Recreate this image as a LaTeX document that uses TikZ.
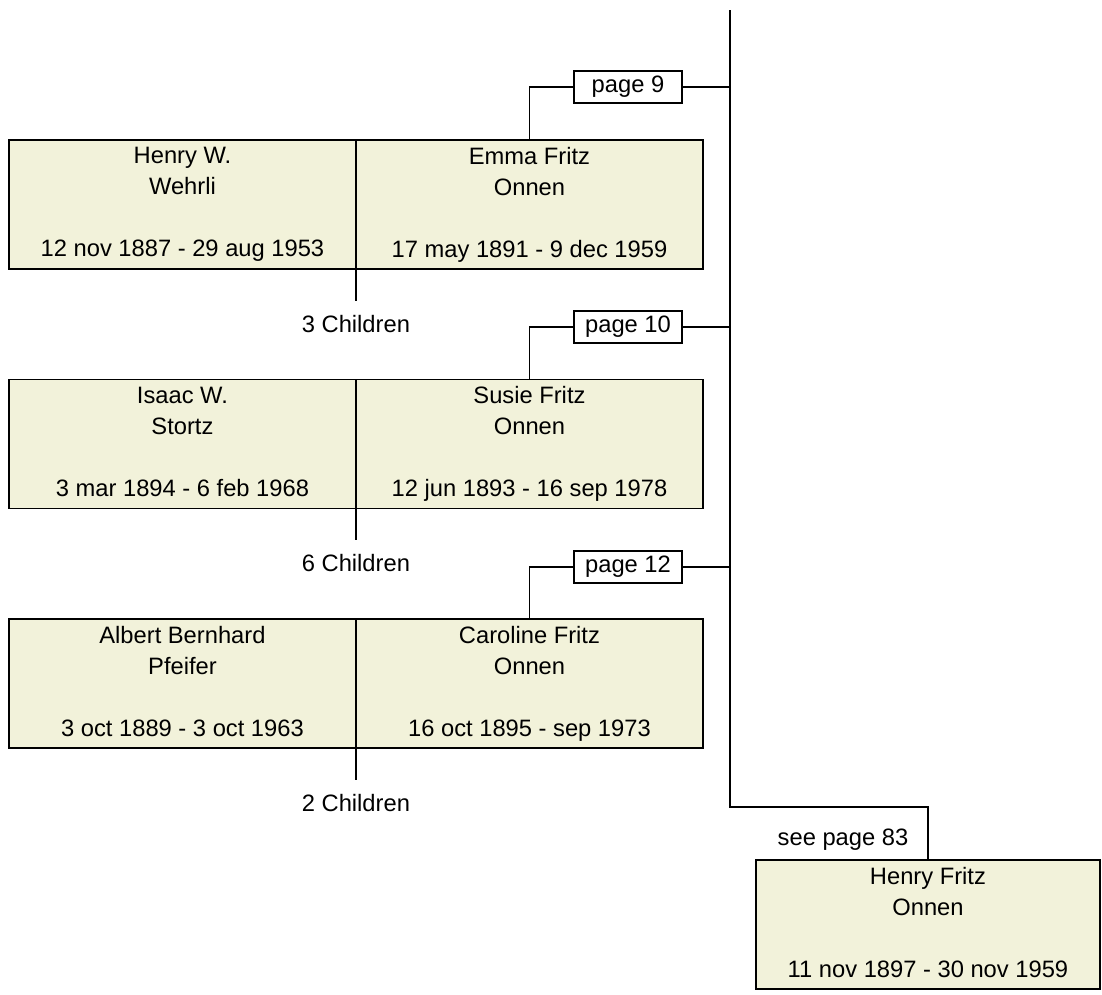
\documentclass[tikz,border=0pt]{standalone}
\usepackage{fontspec}
\setmainfont{Liberation Sans}
\usepackage{xcolor}
\usepackage{tikz}
\usetikzlibrary{positioning}
\definecolor{boxfill}{RGB}{242,242,218}

\begin{document}
\begin{tikzpicture}[x=0.02cm, y=-0.02cm, line width=1.1pt,
    person/.style={rectangle, draw, fill=boxfill, outer sep=0pt, inner sep=0pt,
        minimum width=6.94cm, minimum height=2.58cm, align=center, anchor=north west,
        execute at end node=\vphantom{gy},
        font=\fontsize{13.5}{17.6}\selectfont},
    pagebox/.style={rectangle, draw, fill=white, inner sep=0pt,
        minimum width=2.16cm, minimum height=0.64cm, font=\fontsize{13.5}{16}\selectfont},
    kids/.style={inner sep=0.26cm, font=\fontsize{13.5}{16}\selectfont}]
    \useasboundingbox (0,0) rectangle (1102,994);

    % couples
    \node[person] (h1) at (9,140) {Henry W.\\Wehrli\\~\\12 nov 1887 - 29 aug 1953};
    \node[person] (w1) at (356,140) {Emma Fritz\\Onnen\\~\\17 may 1891 - 9 dec 1959};
    \node[person] (h2) at (9,379.5) {Isaac W.\\Stortz\\~\\3 mar 1894 - 6 feb 1968};
    \node[person] (w2) at (356,379.5) {Susie Fritz\\Onnen\\~\\12 jun 1893 - 16 sep 1978};
    \node[person] (h3) at (9,619) {Albert Bernhard\\Pfeifer\\~\\3 oct 1889 - 3 oct 1963};
    \node[person] (w3) at (356,619) {Caroline Fritz\\Onnen\\~\\16 oct 1895 - sep 1973};

    \node[kids, below=0.64cm of h1.south east] (k1) {3 Children};
    \node[kids, below=0.64cm of h2.south east] (k2) {6 Children};
    \node[kids, below=0.64cm of h3.south east] (k3) {2 Children};

    \node[pagebox] (p1) at (628,87) {page 9};
    \node[pagebox] (p2) at (628,327) {page 10};
    \node[pagebox] (p3) at (628,567) {page 12};

    % spine and the person himself
    \coordinate (top) at (730,10);
    \coordinate (bot) at (730,807);
    \node[person, minimum width=6.88cm] (me) at (756,860)
        {Henry Fritz\\Onnen\\~\\11 nov 1897 - 30 nov 1959};
    \node[font=\fontsize{13.5}{16}\selectfont] (seep) at (843,840) {see page 83};

    \draw (top) -- (bot) -| (me.north);
    \draw (p1.east) -- (p1.east -| top)
          (p2.east) -- (p2.east -| top)
          (p3.east) -- (p3.east -| top);
    \draw (p1.west) -| (w1.north)
          (p2.west) -| (w2.north)
          (p3.west) -| (w3.north);
    \draw (h1.south east) -- (k1.north)
          (h2.south east) -- (k2.north)
          (h3.south east) -- (k3.north);
\end{tikzpicture}
\end{document}
